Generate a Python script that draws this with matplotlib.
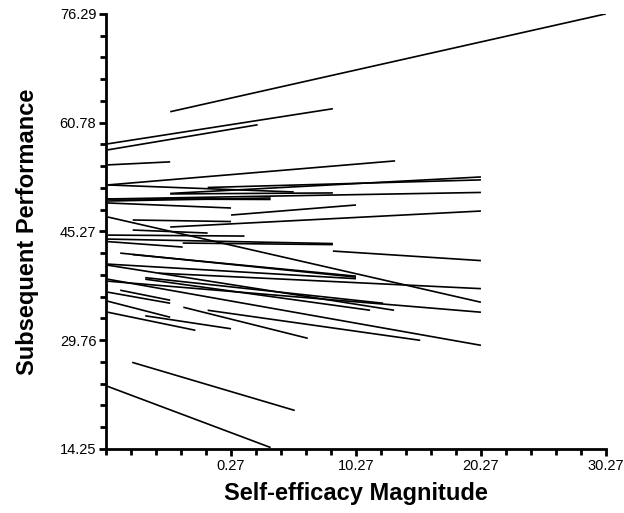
import numpy as np
import matplotlib
matplotlib.use("Agg")
import matplotlib.pyplot as plt
from matplotlib.ticker import FixedLocator

plt.rcParams["font.family"] = ["Liberation Sans", "DejaVu Sans"]

# ---- data: one line segment per entry (start -> end) ----
x_start = [-4.6, -9.6, -9.6, -9.6, -9.6, -9.6, -4.6, -1.6, -4.6, -9.6,
           -9.6, -9.6, -6.6, -9.6, 0.27, -4.6, -7.6, -9.6, -7.6, -9.6,
           -9.6, -9.6, -3.6, 8.42, -8.6, -7.6, -9.6, -5.55, -9.6, -9.6,
           -8.6, -9.6, -6.6, -9.6, -3.55, -7.64, -9.6, -9.6, -6.6, -9.6,
           -6.6, -1.6]
y_start = [62.33, 57.75, 56.89, 54.75, 51.89, 51.89, 50.68, 51.53, 50.61, 49.89,
           49.89, 49.60, 49.89, 49.32, 47.60, 45.89, 46.89, 47.32, 45.46, 44.74,
           44.17, 43.81, 43.60, 42.46, 42.17, 41.96, 40.60, 39.31, 38.45, 36.60,
           36.88, 35.31, 33.23, 33.74, 34.45, 26.59, 23.16, 40.45, 38.67, 38.17,
           38.45, 34.02]
x_end = [30.27, 8.42, 2.4, -4.6, 13.4, 5.29, 20.27, 20.27, 8.42, 20.27,
         3.44, 3.44, -0.57, 0.27, 10.27, 20.27, 0.27, 20.27, -1.6, 1.35,
         8.42, -3.6, 8.42, 20.27, 10.27, 10.27, 10.27, 20.27, 20.27, -4.6,
         -4.6, -4.6, 0.27, -2.58, 6.41, 5.37, 3.44, 13.32, 12.44, 20.27,
         11.4, 15.41]
y_end = [76.29, 62.76, 60.47, 55.18, 55.32, 50.89, 53.03, 52.61, 50.75, 50.82,
         49.82, 50.03, 49.89, 48.60, 49.03, 48.17, 46.67, 35.16, 45.03, 44.60,
         43.53, 43.03, 43.38, 41.10, 38.74, 38.88, 38.52, 37.10, 29.02, 35.02,
         35.45, 33.02, 31.38, 31.16, 30.02, 19.73, 14.44, 34.02, 35.02, 33.74,
         34.02, 29.73]

x_ticks = [0.27, 10.27, 20.27, 30.27]
y_ticks = [14.25, 29.76, 45.27, 60.78, 76.29]


def main():
    fig = plt.figure(figsize=(6.24, 5.13), dpi=100)
    ax = fig.add_axes([0.170, 0.125, 0.801, 0.848])

    for xs, ys, xe, ye in zip(x_start, y_start, x_end, y_end):
        ax.plot([xs, xe], [ys, ye], color="black", linewidth=1.2,
                solid_capstyle="butt")

    ax.set_xlim(-9.73, 30.27)
    ax.set_ylim(14.25, 76.29)

    ax.xaxis.set_major_locator(FixedLocator(x_ticks))
    ax.xaxis.set_minor_locator(FixedLocator(np.arange(-9.73, 30.3, 2.0)))
    ax.yaxis.set_major_locator(FixedLocator(y_ticks))
    ax.yaxis.set_minor_locator(FixedLocator(np.arange(14.25, 76.3, 3.102)))
    ax.set_xticklabels([f"{v:.2f}" for v in x_ticks])
    ax.set_yticklabels([f"{v:.2f}" for v in y_ticks])

    for side in ["top", "right"]:
        ax.spines[side].set_visible(False)
    for side in ["left", "bottom"]:
        ax.spines[side].set_linewidth(2.0)

    ax.tick_params(which="major", direction="out", length=5, width=2.0,
                   labelsize=10.5, pad=2)
    ax.tick_params(which="minor", direction="out", length=4, width=2.0)

    ax.set_xlabel("Self-efficacy Magnitude", fontsize=17, fontweight="bold",
                  labelpad=7)
    ax.set_ylabel("Subsequent Performance", fontsize=17, fontweight="bold",
                  labelpad=15)

    fig.savefig("out.png", dpi=100)
    plt.close(fig)


if __name__ == "__main__":
    main()
